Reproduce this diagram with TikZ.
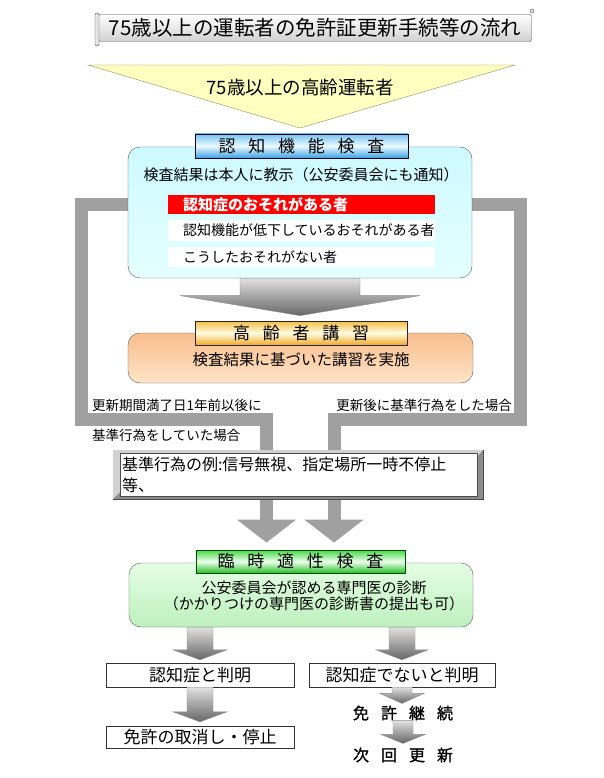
\documentclass[tikz,border=0pt]{standalone}
\usepackage{fontspec}
\setmainfont{Noto Sans CJK JP}
\newfontfamily\semibold[FakeBold=1.2]{Noto Sans CJK JP}
\usetikzlibrary{arrows.meta,calc,positioning,backgrounds}

\definecolor{bandgray}{RGB}{160,160,160}
\definecolor{triyellow}{RGB}{255,255,192}
\definecolor{triedge}{RGB}{140,140,100}
\definecolor{cyantop}{RGB}{205,250,255}
\definecolor{cyanbot}{RGB}{228,255,255}
\definecolor{bluetop}{RGB}{120,195,240}
\definecolor{bluemid}{RGB}{235,250,255}
\definecolor{bluebot}{RGB}{60,160,225}
\definecolor{goldtop}{RGB}{245,190,70}
\definecolor{goldmid}{RGB}{255,252,225}
\definecolor{goldbot}{RGB}{240,170,40}
\definecolor{peachtop}{RGB}{250,190,140}
\definecolor{peachbot}{RGB}{253,228,200}
\definecolor{greentop}{RGB}{70,215,70}
\definecolor{greenmid}{RGB}{235,255,235}
\definecolor{greenbot}{RGB}{40,190,40}
\definecolor{mintop}{RGB}{228,255,228}
\definecolor{minbot}{RGB}{190,240,190}

% spacing between the letters of a heading
\newcommand{\kgap}{\hspace{.75em}}
% gray block arrow: from, tip, shaft half width, head half width, head length
\newcommand{\grayarrow}[5]{%
  \shade[arrowshade] let \p1=(#1), \p2=(#2) in
    (\x1-#3pt,\y1) -- (\x1+#3pt,\y1) -- (\x1+#3pt,\y2+#5pt) -- (\x1+#4pt,\y2+#5pt)
    -- (\x1,\y2) -- (\x1-#4pt,\y2+#5pt) -- (\x1-#3pt,\y2+#5pt) -- cycle;}

\tikzset{
  txt/.style={font=\fontsize{#1}{#1}\selectfont, inner sep=0pt},
  labelbox/.style={draw=#1, line width=.8pt, inner sep=0pt, minimum height=24,
    font=\fontsize{17}{17}\selectfont},
  roundbox/.style={draw=black!65, rounded corners=12pt, inner sep=0pt},
  resultbox/.style={inner xsep=15pt, inner ysep=0pt, text width=237pt, align=left,
    font=\fontsize{14}{14}\selectfont},
  outbox/.style={draw=black!80, fill=white, inner sep=0pt, minimum width=188,
    minimum height=24, font=\fontsize{17}{17}\selectfont},
  arrowshade/.style={top color=black!12, bottom color=black!60, draw=black!45, line width=.4pt},
  band/.style={draw=bandgray, line width=13pt, line join=miter,
    -{Triangle[width=58pt,length=23pt]}}
}

\begin{document}
\begin{tikzpicture}[x=1pt,y=-1pt]
  \useasboundingbox (0,0) rectangle (604,778);

  % title scroll
  \node[draw=black!70, top color=white, bottom color=black!18, rounded corners=2pt,
    minimum width=433, minimum height=27, txt=20.5] (title) at (315,28) {75歳以上の運転者の免許証更新手続等の流れ};
  \filldraw[draw=black!70, fill=black!10, rounded corners=1.5pt] (95,13) rectangle (99,46);
  \filldraw[draw=black!70, fill=black!10] (532,11) circle (2);

  % target drivers
  \coordinate (triL) at (88,65);
  \coordinate (triR) at (515,65);
  \coordinate (triT) at (300,128);
  \filldraw[fill=triyellow, draw=triedge] (triL) -- (triR) -- (triT) -- cycle;
  \node[txt=18.5] (elder) at (300,87) {75歳以上の高齢運転者};

  % cognitive test
  \node[roundbox, top color=cyantop, bottom color=cyanbot, minimum width=344,
    minimum height=131] (testbox) at (300,212.5) {};
  \node[labelbox=black!80!blue, top color=bluetop, bottom color=bluebot, middle color=bluemid,
    minimum width=213] (testlabel) at (301.5,146) {認\kgap 知\kgap 機\kgap 能\kgap 検\kgap 査};
  \node[txt=15] (notice) at (301,175) {検査結果は本人に教示（公安委員会にも通知）};
  \node[resultbox, fill=red, text=white, minimum height=19,
    font=\fontsize{15}{15}\selectfont\bfseries] (warn) at (301.5,204.5) {認知症のおそれがある者};
  \node[resultbox, fill=white, minimum height=21] (decline) at (301.5,230.5) {認知機能が低下しているおそれがある者};
  \node[resultbox, fill=white, minimum height=20] (noworry) at (301.5,257) {こうしたおそれがない者};

  % lecture
  \node[roundbox, top color=peachtop, bottom color=peachbot, minimum width=345,
    minimum height=50] (lecturebox) at (300.5,358) {};
  \node[labelbox=black!85, top color=goldtop, bottom color=goldbot, middle color=goldmid,
    minimum width=212] (lecturelabel) at (301,333) {高\kgap 齢\kgap 者\kgap 講\kgap 習};
  \node[txt=15.5] (lecturetext) at (301,360) {検査結果に基づいた講習を実施};
  \grayarrow{testbox.south}{$(lecturelabel.north)+(0,-5)$}{60}{120}{20}

  % conditions
  \node[txt=13.5, anchor=west] (beforeexp) at (92,405) {更新期間満了日1年前以後に};
  \node[txt=13.5, anchor=west] (beforeexp2) at (92,435) {基準行為をしていた場合};
  \node[txt=13.5, anchor=east] (afterrenew) at (512,405) {更新後に基準行為をした場合};

  % examples of the acts
  \filldraw[draw=black!70, fill=black!45] (113,450) rectangle (483,499);
  \fill[black!18] (113,450) -- (483,450) -- (477,457) -- (120,457) -- (120,492) -- (113,499) -- cycle;
  \node[draw=black!70, fill=white, minimum width=357, minimum height=35, inner xsep=2pt,
    text width=353, align=left, font=\fontsize{16}{21}\selectfont]
    (example) at (298.5,474.5) {基準行為の例:信号無視、指定場所一時不停止\\等、};

  % temporary aptitude test
  \node[roundbox, top color=mintop, bottom color=minbot, minimum width=344,
    minimum height=64] (exambox) at (301,595) {};
  \node[labelbox=black!70!green, top color=greentop, bottom color=greenbot, middle color=greenmid,
    minimum width=209, minimum height=23] (examlabel) at (300.5,561.5) {臨\kgap 時\kgap 適\kgap 性\kgap 検\kgap 査};
  \node[inner sep=0pt, align=center, font=\fontsize{15}{16.5}\selectfont] (examtext) at (314,596)
    {公安委員会が認める専門医の診断\\（かかりつけの専門医の診断書の提出も可）};

  % results
  \node[outbox] (dementia) at (200,675) {認知症と判明};
  \node[outbox, minimum height=22] (revoke) at (200,737) {免許の取消し・停止};
  \node[outbox, minimum width=186] (nodementia) at (402,675) {認知症でないと判明};
  \node[txt=16, font=\fontsize{16}{16}\selectfont\semibold] (keep) at (403,713) {免\kgap 許\kgap 継\kgap 続};
  \node[txt=16, font=\fontsize{16}{16}\selectfont\semibold] (renew) at (403,755) {次\kgap 回\kgap 更\kgap 新};

  \grayarrow{dementia.north |- exambox.south}{$(dementia.north)+(0,-3)$}{13}{27}{10}
  \grayarrow{dementia.south}{$(revoke.north)+(0,-4)$}{13}{27}{10}
  \grayarrow{nodementia.north |- exambox.south}{$(nodementia.north)+(0,-3)$}{13}{26}{10}
  \grayarrow{nodementia.south}{$(keep.north)+(0,-2)$}{10}{22}{10}
  \grayarrow{keep.south}{$(renew.north)+(0,-4)$}{10}{22}{9}

  % gray bands from the test down to the aptitude test
  \coordinate (tipL) at ($(examlabel.north)+(-34,-7)$);
  \coordinate (tipR) at ($(examlabel.north)+(33.5,-7)$);
  \begin{pgfonlayer}{background}
    \fill[white] (0,0) rectangle (604,778);
    \draw[band] (warn.center) -| (81,419) -| (tipL);
    \draw[band] (warn.center) -| (520,419) -| (tipR);
  \end{pgfonlayer}
\end{tikzpicture}
\end{document}
